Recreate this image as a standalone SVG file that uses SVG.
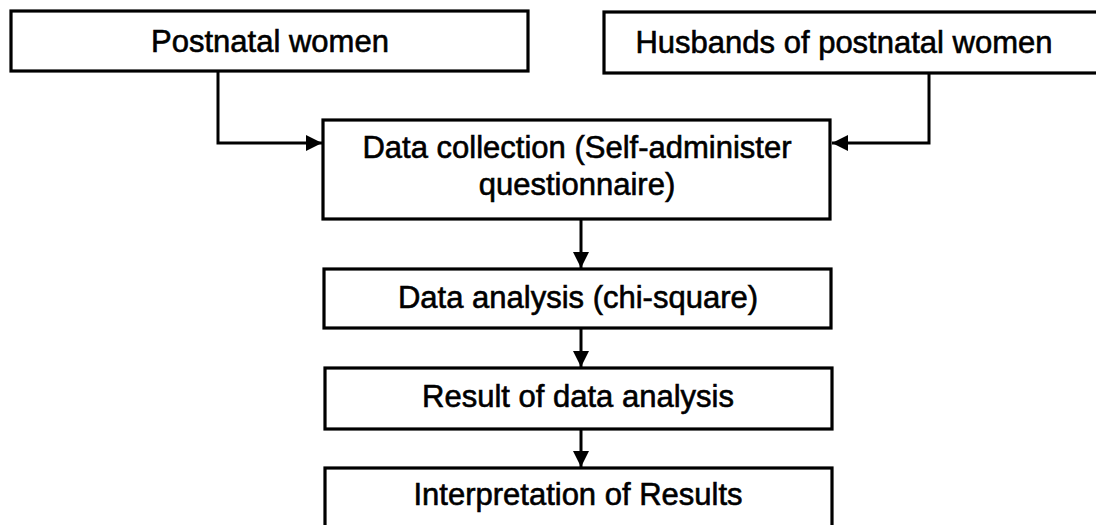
<svg xmlns="http://www.w3.org/2000/svg" width="1096" height="525" viewBox="0 0 1096 525">
<defs>
<style>
.box{fill:#fff;stroke:#000;stroke-width:3.2}
.lbl{font-family:"Liberation Sans",Arial,sans-serif;font-size:31px;fill:#000;stroke:#000;stroke-width:0.6;text-anchor:middle}
.con{fill:none;stroke:#000;stroke-width:3}
</style>
<marker id="ah" viewBox="0 0 10 10" refX="10" refY="5" markerWidth="18" markerHeight="16" markerUnits="userSpaceOnUse" orient="auto">
<path d="M0,0 L10,5 L0,10 z" fill="#000"/>
</marker>
</defs>
<rect width="1096" height="525" fill="#fff"/>
<g id="connectors">
<path class="con" d="M218,71 V143 H322" marker-end="url(#ah)"/>
<path class="con" d="M929,73 V143 H832" marker-end="url(#ah)"/>
<path class="con" d="M581,219 V268" marker-end="url(#ah)"/>
<path class="con" d="M581,328 V367" marker-end="url(#ah)"/>
<path class="con" d="M581,429 V467" marker-end="url(#ah)"/>
</g>
<g id="postnatal">
<rect class="box" x="11" y="11" width="517" height="60"/>
<text class="lbl" x="270" y="52">Postnatal women</text>
</g>
<g id="husbands">
<rect class="box" x="604" y="12" width="500" height="61"/>
<text class="lbl" x="844" y="53">Husbands of postnatal women</text>
</g>
<g id="collection">
<rect class="box" x="323" y="120" width="507" height="99"/>
<text class="lbl" x="577" y="158">Data collection (Self-administer</text>
<text class="lbl" x="577" y="195">questionnaire)</text>
</g>
<g id="analysis">
<rect class="box" x="324" y="269" width="507" height="59"/>
<text class="lbl" x="578" y="308">Data analysis (chi-square)</text>
</g>
<g id="result">
<rect class="box" x="325" y="368" width="507" height="61"/>
<text class="lbl" x="578" y="407">Result of data analysis</text>
</g>
<g id="interpretation">
<rect class="box" x="325" y="468" width="507" height="70"/>
<text class="lbl" x="578" y="505">Interpretation of Results</text>
</g>
</svg>
